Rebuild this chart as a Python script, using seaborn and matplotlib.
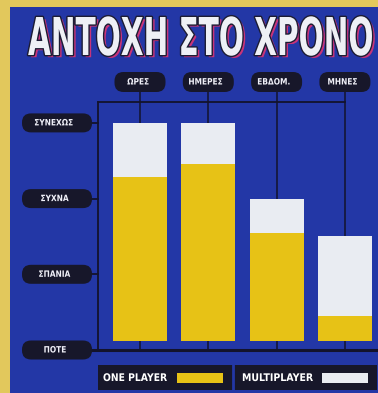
import matplotlib
matplotlib.use("Agg")
import matplotlib.pyplot as plt
import matplotlib.patheffects as pe
from matplotlib.patches import Rectangle, FancyBboxPatch
from matplotlib.transforms import Affine2D
import pandas as pd
import seaborn as sns

# --- data -------------------------------------------------------------
categories = ["ΩΡΕΣ", "ΗΜΕΡΕΣ", "ΕΒΔΟΜ.", "ΜΗΝΕΣ"]
one_player = [2.29, 2.46, 1.55, 0.45]
multiplayer = [3.0, 3.0, 2.0, 1.5]
levels = ["ΠΟΤΕ", "ΣΠΑΝΙΑ", "ΣΥΧΝΑ", "ΣΥΝΕΧΩΣ"]
title = "ΑΝΤΟΧΗ ΣΤΟ ΧΡΟΝΟ"
legend_labels = ["ONE PLAYER", "MULTIPLAYER"]

# --- style ------------------------------------------------------------
BORDER = "#e2c85c"
BLUE = "#2337a6"
YELLOW = "#e7c216"
WHITE = "#e9ecf2"
PILL = "#17172a"
LINE = "#13132c"
FONT = "DejaVu Sans"

W, H = 378, 393
X0, DX = 140.0, 68.3     # pixel of first category, pixels per category
Y0, DY = 350.0, 75.7     # pixel of level 0, pixels per level
BASE = 0.12              # gap between baseline and bar bottoms


class Scaled(pe.AbstractPathEffect):
    """Run another path effect on glyphs rescaled about the text origin."""

    def __init__(self, inner, sx=1.0, sy=1.0):
        super().__init__()
        self.inner = inner
        self.sx = sx
        self.sy = sy

    def draw_path(self, renderer, gc, tpath, affine, rgbFace=None):
        self.inner.draw_path(renderer, gc, tpath,
                             Affine2D().scale(self.sx, self.sy) + affine,
                             rgbFace)


def dx(px):
    return (px - X0) / DX


def dy(py):
    return (Y0 - py) / DY


fig = plt.figure(figsize=(W / 100, H / 100), dpi=100, facecolor=BORDER)
ax = fig.add_axes([0, 0, 1, 1])
ax.set_axis_off()

df = pd.DataFrame({
    "category": categories * 2,
    "player": [legend_labels[0]] * 4 + [legend_labels[1]] * 4,
    "value": one_player + multiplayer,
})

sns.barplot(data=df[df.player == legend_labels[1]], x="category", y="value",
            order=categories, color=WHITE, saturation=1, width=0.79,
            errorbar=None, linewidth=0, ax=ax, zorder=3)
sns.barplot(data=df[df.player == legend_labels[0]], x="category", y="value",
            order=categories, color=YELLOW, saturation=1, width=0.79,
            errorbar=None, linewidth=0, ax=ax, zorder=3)

# bars rest slightly above the baseline
for p in list(ax.patches):
    top = p.get_y() + p.get_height()
    p.set_y(BASE)
    p.set_height(top - BASE)

ax.set_xlim(dx(0), dx(W))
ax.set_ylim(dy(H), dy(0))

# background panel
ax.add_patch(Rectangle((dx(10), dy(H)), dx(W) - dx(10), dy(7) - dy(H),
                       fc=BLUE, ec="none", zorder=0))

# title: tall narrow capitals with outline and pink drop shadow
t = ax.text(dx(28), dy(55), title, ha="left", va="baseline", color="#eef0f5",
            fontsize=30, fontweight="bold", family=FONT, zorder=6)
fig.canvas.draw()
t.set_fontsize(30 * 346 / t.get_window_extent().width)
cap_px = t.get_fontsize() / 72 * 100 * 0.729
sy = 38 / cap_px
t.set_path_effects([
    Scaled(pe.SimplePatchShadow(offset=(2.0, -1.6), shadow_rgbFace="#c8347a",
                                alpha=1), sy=sy),
    Scaled(pe.Stroke(linewidth=2.0, foreground="#1c1c34"), sy=sy),
    Scaled(pe.Normal(), sy=sy),
])


def pill(cx, cy, w, h, label, size):
    r = 9
    ax.add_patch(FancyBboxPatch((dx(cx - w / 2), dy(cy + h / 2)),
                                w / DX, h / DY,
                                boxstyle=f"round,pad=0,rounding_size={r / DX}",
                                mutation_aspect=DX / DY,
                                fc=PILL, ec="none", zorder=5))
    txt = ax.text(dx(cx), dy(cy), label, ha="center", va="center",
                  color="#f0f0f8", fontsize=size, fontweight="bold",
                  family=FONT, zorder=6)
    txt.set_path_effects([Scaled(pe.Normal(), sx=0.85)])
    return txt


# category pills and connectors
for i, c in enumerate(categories):
    pill(X0 + i * DX, 82, 51, 20, c, 6.3)
    ax.plot([i, i], [dy(92), 0], color=LINE, lw=1.1, zorder=1)

# top rail and left axis
ax.plot([dx(98), len(categories) - 1], [dy(102), dy(102)], color=LINE, lw=1.3, zorder=1)
ax.plot([dx(98), dx(98)], [dy(102), 0], color=LINE, lw=1.3, zorder=1)
ax.plot([dx(92), dx(W)], [0, 0], color=LINE, lw=2.2, zorder=2)

# level pills
for j, lv in enumerate(levels):
    pill(57, Y0 - j * DY, 70, 19, lv, 6.3)
    ax.plot([dx(92), dx(98)], [j, j], color=LINE, lw=1.3, zorder=1)

# legend strip
ax.add_patch(Rectangle((dx(98), dy(390)), dx(377) - dx(98), dy(365) - dy(390),
                       fc=PILL, ec="none", zorder=4))
ax.plot([dx(233), dx(233)], [dy(365), dy(390)], color=BLUE, lw=2, zorder=5)
for lab, col, tx, sx_, wpx in [(legend_labels[0], YELLOW, 103, 177, 64),
                               (legend_labels[1], WHITE, 242, 322, 71)]:
    lt = ax.text(dx(tx), dy(378), lab, ha="left", va="center", color="white",
                 fontsize=7.6, fontweight="bold", family=FONT, zorder=6)
    fig.canvas.draw()
    lt.set_path_effects([Scaled(pe.Normal(),
                                sx=wpx / lt.get_window_extent().width)])
    ax.add_patch(Rectangle((dx(sx_), dy(383)), 46 / DX, 10 / DY,
                           fc=col, ec="none", zorder=5))

fig.savefig("out.png", dpi=100, facecolor=BORDER)
